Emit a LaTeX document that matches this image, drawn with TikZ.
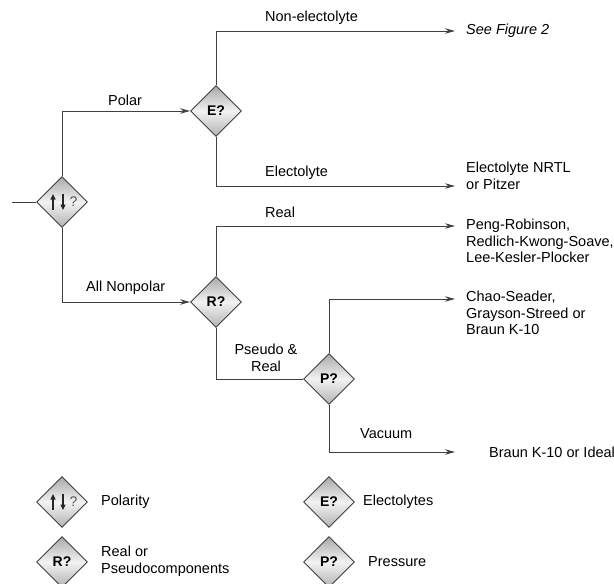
\documentclass[tikz,border=0pt]{standalone}
\usepackage{fontspec}
\setmainfont{Liberation Sans}
\usetikzlibrary{shapes.geometric,arrows.meta}
\begin{document}
\begin{tikzpicture}[x=1pt,y=-1pt,
  dia/.style={diamond, draw=black!75, line width=0.9pt, minimum width=51pt, minimum height=51pt, inner sep=0pt,
    top color=gray!68, bottom color=gray!60, middle color=gray!10, font=\fontsize{14}{16}\selectfont\bfseries},
  ln/.style={draw=black!75, line width=1pt},
  arr/.style={ln, -{Stealth[length=10pt,width=5.5pt]}},
  lbl/.style={font=\fontsize{14.5}{16.5}\selectfont, inner sep=0pt, anchor=west, align=left},
  clbl/.style={font=\fontsize{14.5}{16.5}\selectfont, inner sep=0pt, align=center},
  sym/.style={line width=1.4pt, black!85, -{Triangle[length=5.5pt,width=5pt]}},
  qm/.style={font=\fontsize{14}{16}\selectfont, text=black!65, inner sep=0pt}
]
\useasboundingbox (0,0) rectangle (614,584);

% main diamonds
\node[dia] (pol) at (62,202) {};
\node[dia] (E) at (216,111) {E?};
\node[dia] (R) at (216,302) {R?};
\node[dia] (P) at (329,379) {P?};
\coordinate (in) at (12,202);

% polarity symbol
\draw[sym] ([xshift=-9pt,yshift=-8pt]pol.center) -- ([xshift=-9pt,yshift=8pt]pol.center);
\draw[sym] ([xshift=1pt,yshift=8pt]pol.center) -- ([xshift=1pt,yshift=-8pt]pol.center);
\node[qm] (polq) at ([xshift=11.5pt]pol.center) {?};

% target texts
\node[lbl, font=\fontsize{14.5}{16.5}\selectfont\itshape] (t1) at (466,31) {See Figure 2};
\node[lbl] (t2) at (466,176) {Electolyte NRTL\\or Pitzer};
\node[lbl] (t3) at (466,241) {Peng-Robinson,\\Redlich-Kwong-Soave,\\Lee-Kesler-Plocker};
\node[lbl] (t4) at (466,313) {Chao-Seader,\\Grayson-Streed or\\Braun K-10};
\node[lbl] (t5) at (489,452) {Braun K-10 or Ideal};

\coordinate (a1) at (455,31);
\coordinate (a2) at (455,186);
\coordinate (a3) at (455,226);
\coordinate (a4) at (455,299);
\coordinate (a5) at (455,452);

% connectors
\draw[ln] (in) -- (pol.west);
\draw[arr] (pol.north) |- (E.west);
\draw[arr] (pol.south) |- (R.west);
\draw[arr] (E.north) |- (a1);
\draw[arr] (E.south) |- (a2);
\draw[arr] (R.north) |- (a3);
\draw[ln] (R.south) |- (P.west);
\draw[arr] (P.north) |- (a4);
\draw[arr] (P.south) |- (a5);

% connector labels
\node[lbl] (lnon) at (265,18) {Non-electolyte};
\node[lbl] (lpol) at (108,100) {Polar};
\node[lbl] (lel) at (265,173) {Electolyte};
\node[lbl] (lreal) at (265,212) {Real};
\node[lbl] (lnp) at (86,288) {All Nonpolar};
\node[clbl] (lps) at (266,358) {Pseudo \&\\Real};
\node[lbl] (lvac) at (360,434) {Vacuum};

% legend
\node[dia] (kpol) at (62,502) {};
\draw[sym] ([xshift=-9pt,yshift=-8pt]kpol.center) -- ([xshift=-9pt,yshift=8pt]kpol.center);
\draw[sym] ([xshift=1pt,yshift=8pt]kpol.center) -- ([xshift=1pt,yshift=-8pt]kpol.center);
\node[qm] (kpolq) at ([xshift=11.5pt]kpol.center) {?};
\node[dia] (kR) at (62,562) {R?};
\node[dia] (kE) at (329,502) {E?};
\node[dia] (kP) at (329,562) {P?};
\node[lbl] (kpolt) at (101,502) {Polarity};
\node[lbl] (kRt) at (101,561) {Real or\\Pseudocomponents};
\node[lbl] (kEt) at (363,502) {Electolytes};
\node[lbl] (kPt) at (368,562) {Pressure};
\end{tikzpicture}
\end{document}
